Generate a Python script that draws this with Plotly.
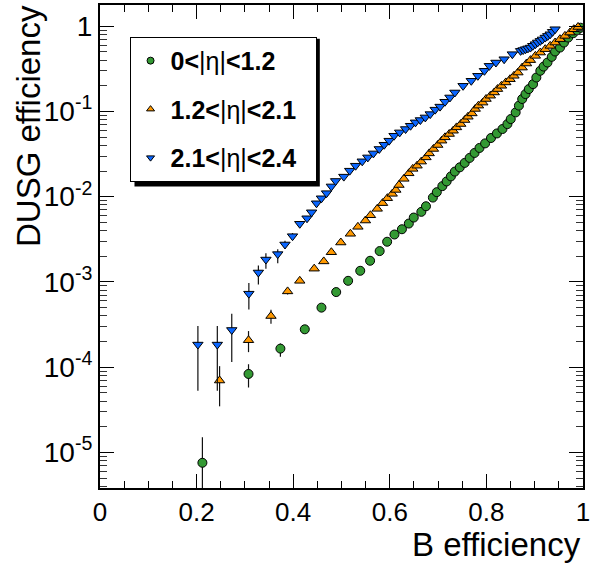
import plotly.graph_objects as go

# B efficiency vs DUSG (light) mistag efficiency, three |eta| regions
names = ["<b>0&lt;</b>|η|<b>&lt;1.2</b>&nbsp;&nbsp;", "<b>1.2&lt;</b>|η|<b>&lt;2.1</b>&nbsp;&nbsp;",
         "<b>2.1&lt;</b>|η|<b>&lt;2.4</b>&nbsp;&nbsp;"]

eff_b_central = [0.212, 0.3075, 0.3735, 0.424, 0.4585, 0.489, 0.5137, 0.5388, 0.5592, 0.579,
                 0.5945, 0.6096, 0.6251, 0.6394, 0.6496, 0.6653, 0.6749, 0.6892, 0.6973, 0.7088,
                 0.7177, 0.7265, 0.7347, 0.7449, 0.7551, 0.7653, 0.7755, 0.7857, 0.7973, 0.8095,
                 0.8218, 0.8333, 0.8435, 0.8504, 0.8606, 0.8673, 0.8741, 0.881, 0.8878, 0.8966,
                 0.9034, 0.9116, 0.9184, 0.9265, 0.9353, 0.9422, 0.9524, 0.9606, 0.9694, 0.9796,
                 0.9878, 0.995]
eff_l_central = [7.55e-6, 8.32e-5, 1.65e-4, 2.78e-4, 4.99e-4, 7.6e-4, 1.03e-3, 1.35e-3, 1.77e-3, 2.3e-3,
                 2.96e-3, 3.6e-3, 4.15e-3, 4.84e-3, 5.69e-3, 6.64e-3, 7.72e-3, 9.76e-3, 1.13e-2, 1.33e-2,
                 1.51e-2, 1.73e-2, 1.97e-2, 2.21e-2, 2.49e-2, 2.85e-2, 3.26e-2, 3.73e-2, 4.22e-2, 4.88e-2,
                 5.52e-2, 6.22e-2, 7.11e-2, 8.14e-2, 9.74e-2, 0.117, 0.14, 0.16, 0.183, 0.209,
                 0.25, 0.3, 0.336, 0.375, 0.437, 0.505, 0.562, 0.643, 0.736, 0.828,
                 0.897, 0.96]
err_up_central = [7.5e-6, 2.5e-5, 2.4e-5, 2.5e-5]
err_dn_central = [7.0e-6, 2.55e-5, 3.3e-5, 2.5e-5]

eff_b_overlap = [0.2476, 0.3075, 0.354, 0.3884, 0.4136, 0.4435, 0.4633, 0.479, 0.4986, 0.5184,
                 0.534, 0.5496, 0.560, 0.574, 0.585, 0.595, 0.605, 0.6125, 0.619, 0.6292,
                 0.6394, 0.6476, 0.6565, 0.6653, 0.6749, 0.6816, 0.6904, 0.6993, 0.7075, 0.7143,
                 0.7231, 0.7313, 0.7382, 0.7469, 0.7551, 0.7619, 0.7701, 0.7769, 0.7837, 0.7925,
                 0.7993, 0.8082, 0.8163, 0.8231, 0.8313, 0.8402, 0.849, 0.8571, 0.8653, 0.8741,
                 0.8831, 0.8912, 0.9014, 0.9116, 0.9218, 0.932, 0.9422, 0.9524, 0.9626, 0.9729,
                 0.981, 0.9898]
eff_l_overlap = [6.97e-5, 2.07e-4, 3.98e-4, 7.74e-4, 1.03e-3, 1.43e-3, 1.74e-3, 2.23e-3, 2.9e-3, 3.67e-3,
                 4.43e-3, 5.25e-3, 6.05e-3, 7.2e-3, 8.4e-3, 9.6e-3, 1.08e-2, 1.2e-2, 1.37e-2, 1.62e-2,
                 1.88e-2, 2.12e-2, 2.31e-2, 2.58e-2, 2.89e-2, 3.22e-2, 3.63e-2, 4.04e-2, 4.54e-2, 4.97e-2,
                 5.44e-2, 5.94e-2, 6.5e-2, 7.12e-2, 7.93e-2, 8.67e-2, 9.48e-2, 0.107, 0.117, 0.127,
                 0.14, 0.153, 0.167, 0.183, 0.2, 0.219, 0.239, 0.262, 0.286, 0.327,
                 0.365, 0.4, 0.449, 0.491, 0.538, 0.588, 0.643, 0.705, 0.77, 0.842,
                 0.922, 0.98]
err_up_overlap = [3.3e-5, 5.8e-5, 7.4e-5, 6e-5]
err_dn_overlap = [3.5e-5, 5.7e-5, 7.4e-5, 6e-5]

eff_b_forward = [0.2027, 0.2429, 0.2728, 0.3082, 0.3279, 0.3435, 0.368, 0.383, 0.3986, 0.4136,
                 0.4286, 0.4381, 0.4483, 0.4585, 0.469, 0.479, 0.4878, 0.5048, 0.517, 0.5292,
                 0.5429, 0.5545, 0.566, 0.5782, 0.5884, 0.5986, 0.6088, 0.6204, 0.6327, 0.6429,
                 0.6531, 0.6633, 0.6735, 0.6837, 0.6939, 0.7041, 0.7143, 0.7245, 0.7347, 0.7517,
                 0.7687, 0.7823, 0.7959, 0.8061, 0.8197, 0.8367, 0.8537, 0.8708, 0.876, 0.881,
                 0.886, 0.8912, 0.896, 0.9014, 0.906, 0.9116, 0.916, 0.9218, 0.927, 0.932,
                 0.937, 0.9422]
eff_l_forward = [1.84e-4, 1.84e-4, 2.73e-4, 7.28e-4, 1.29e-3, 1.83e-3, 2.12e-3, 2.75e-3, 3.44e-3, 4.81e-3,
                 5.58e-3, 6.56e-3, 8.37e-3, 9.58e-3, 1.1e-2, 1.32e-2, 1.53e-2, 1.72e-2, 2.02e-2, 2.31e-2,
                 2.6e-2, 2.89e-2, 3.22e-2, 3.63e-2, 4.07e-2, 4.54e-2, 5.19e-2, 5.68e-2, 6.22e-2, 6.8e-2,
                 7.45e-2, 7.93e-2, 8.51e-2, 9.31e-2, 0.105, 0.114, 0.13, 0.146, 0.167, 0.2,
                 0.229, 0.262, 0.3, 0.343, 0.375, 0.41, 0.47, 0.514, 0.525, 0.538,
                 0.55, 0.562, 0.59, 0.616, 0.645, 0.673, 0.70, 0.736, 0.77, 0.805,
                 0.86, 0.922]
err_up_forward = [1.19e-4, 1.19e-4, 1.51e-4, 2.4e-4, 2.7e-4, 3.4e-4, 3e-4, 3e-4, 3e-4]
err_dn_forward = [1.31e-4, 1.31e-4, 1.58e-4, 2.55e-4, 3.6e-4, 4e-4, 4.6e-4, 3e-4, 3e-4]

y_tickvals = [1e-5, 1e-4, 1e-3, 1e-2, 1e-1, 1]
y_ticktext = ["10<sup>-5</sup>", "10<sup>-4</sup>", "10<sup>-3</sup>", "10<sup>-2</sup>", "10<sup>-1</sup>", "1"]
y_minor_vals = [m * 10.0 ** e for e in range(-6, 1) for m in range(2, 10)]
x_tickvals = [0, 0.2, 0.4, 0.6, 0.8, 1]
x_minor_vals = [k / 20 for k in range(21) if k % 4]

FONT = "Liberation Sans, Arial, Helvetica, sans-serif"
colors = ["#339933", "#ff9900", "#0a66ff"]
symbols = ["circle", "triangle-up", "triangle-down"]
sizes = [9, 9, 9]


def pad(err, n):
    return err + [0] * (n - len(err))


series = [
    (eff_b_central, eff_l_central, err_up_central, err_dn_central),
    (eff_b_overlap, eff_l_overlap, err_up_overlap, err_dn_overlap),
    (eff_b_forward, eff_l_forward, err_up_forward, err_dn_forward),
]

fig = go.Figure()

for i, (xs, ys, eu, ed) in enumerate(series):
    fig.add_trace(go.Scatter(
        x=xs, y=ys, mode="markers", showlegend=False,
        marker=dict(symbol=symbols[i], size=sizes[i], color=colors[i],
                    line=dict(color="black", width=1)),
        error_y=dict(type="data", symmetric=False, array=pad(eu, len(ys)),
                     arrayminus=pad(ed, len(ys)), width=0, thickness=1.2, color="#111"),
    ))

# legend-only entries (smaller markers, like the ROOT legend)
for i in range(3):
    fig.add_trace(go.Scatter(
        x=[None], y=[None], mode="markers", name=names[i], legendgroup=str(i),
        marker=dict(symbol=symbols[i], size=7, color=colors[i],
                    line=dict(color="black", width=1)),
    ))

# legend drop shadow
fig.add_shape(type="rect", xref="paper", yref="paper",
              x0=0.0714, x1=0.4551, y0=0.624, y1=0.93,
              fillcolor="black", line=dict(width=0), layer="above")

fig.update_xaxes(
    range=[0, 1], tickmode="array", tickvals=x_tickvals,
    ticks="inside", ticklen=14, tickwidth=1.3, tickcolor="black",
    minor=dict(ticks="inside", ticklen=7, tickmode="array", tickvals=x_minor_vals,
               tickcolor="black", tickwidth=1.3),
    showline=True, linecolor="black", linewidth=2, mirror="allticks",
    showgrid=False, zeroline=False, ticklabeloverflow="allow",
    tickfont=dict(family=FONT, size=26, color="black"),
)
fig.update_yaxes(
    type="log", range=[-5.418, 0.249],
    tickmode="array", tickvals=y_tickvals, ticktext=y_ticktext,
    ticks="inside", ticklen=14, tickwidth=1.3, tickcolor="black",
    minor=dict(ticks="inside", ticklen=7, tickmode="array", tickvals=y_minor_vals,
               tickcolor="#333", tickwidth=1.3),
    showline=True, linecolor="black", linewidth=2, mirror="allticks",
    showgrid=False, zeroline=False,
    tickfont=dict(family=FONT, size=28, color="black"),
)

fig.add_annotation(text="B efficiency", xref="paper", yref="paper",
                   x=1.0, y=0, xanchor="right", yanchor="top", yshift=-36,
                   showarrow=False, font=dict(family=FONT, size=33, color="black"))
fig.add_annotation(text="DUSG efficiency", xref="paper", yref="paper",
                   x=0, y=1.0, xanchor="center", yanchor="top", xshift=-72, yshift=2,
                   textangle=-90, showarrow=False,
                   font=dict(family=FONT, size=33, color="black"))

fig.update_layout(
    width=593, height=565,
    margin=dict(l=100, r=3, t=4, b=77),
    paper_bgcolor="white", plot_bgcolor="white",
    font=dict(family=FONT, color="black"),
    legend=dict(x=0.0612, y=0.934, xanchor="left", yanchor="top",
                bgcolor="white", bordercolor="black", borderwidth=1,
                font=dict(family=FONT, size=25, color="black"),
                tracegroupgap=13, itemsizing="trace"),
)

fig.write_html("out.html", config={"displayModeBar": False},
               post_script="document.body.style.margin='0';")
